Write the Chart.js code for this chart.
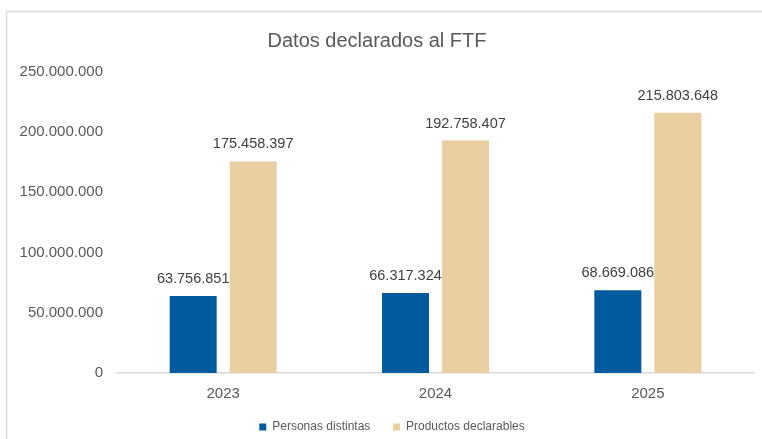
<!DOCTYPE html>
<html>
<head>
<meta charset="utf-8">
<script src="https://cdn.jsdelivr.net/npm/chart.js@4/dist/chart.umd.min.js"></script>
<style>
html,body{margin:0;padding:0;background:#fff;}
#wrap{position:relative;width:762px;height:439px;}
</style>
</head>
<body>
<div id="wrap"><canvas id="c" width="762" height="439"></canvas></div>
<script>
const categories = ['2023', '2024', '2025'];
const personasDistintas = [63756851, 66317324, 68669086];
const productosDeclarables = [175458397, 192758407, 215803648];
const seriesNames = ['Personas distintas', 'Productos declarables'];
const yTicks = [0, 50000000, 100000000, 150000000, 200000000, 250000000];

const FONT = "'Liberation Sans', Arial, sans-serif";
const fmt = v => v.toString().replace(/\B(?=(\d{3})+(?!\d))/g, '.');

const frame = {
  id: 'frame',
  beforeDraw(chart) {
    const ctx = chart.ctx;
    ctx.save();
    ctx.fillStyle = '#fff';
    ctx.fillRect(0, 0, chart.width, chart.height);
    ctx.strokeStyle = '#d9d9d9';
    ctx.lineWidth = 1.5;
    ctx.beginPath();
    ctx.moveTo(6.5, chart.height);
    ctx.lineTo(6.5, 11.5);
    ctx.lineTo(chart.width, 11.5);
    ctx.stroke();
    ctx.restore();
  }
};

const shiftLegend = {
  id: 'shiftLegend',
  afterLayout(chart) {
    if (chart.legend) { chart.legend.left += 15; chart.legend.right += 15; }
  }
};

const valueLabels = {
  id: 'valueLabels',
  afterDatasetsDraw(chart) {
    const ctx = chart.ctx;
    ctx.save();
    ctx.font = '14.5px ' + FONT;
    ctx.fillStyle = '#404040';
    ctx.textAlign = 'center';
    ctx.textBaseline = 'middle';
    chart.data.datasets.forEach((ds, i) => {
      chart.getDatasetMeta(i).data.forEach((bar, j) => {
        ctx.fillText(fmt(ds.data[j]), bar.x, bar.y - 17);
      });
    });
    ctx.restore();
  }
};

new Chart(document.getElementById('c'), {
  type: 'bar',
  data: {
    labels: categories,
    datasets: [
      { label: seriesNames[0], data: personasDistintas, backgroundColor: '#005A9E' },
      { label: seriesNames[1], data: productosDeclarables, backgroundColor: '#E8CEA0' }
    ]
  },
  options: {
    responsive: false,
    animation: false,
    devicePixelRatio: 1,
    layout: { padding: { left: 0, right: 8, top: 12, bottom: -4 } },
    datasets: { bar: { categoryPercentage: 0.565, barPercentage: 0.783 } },
    plugins: {
      title: {
        display: true,
        text: 'Datos declarados al FTF',
        color: '#595959',
        font: { family: FONT, size: 20, weight: 'normal' },
        padding: { top: 17, bottom: 18.5 }
      },
      legend: {
        position: 'bottom',
        labels: {
          color: '#595959',
          font: { family: FONT, size: 12 },
          boxWidth: 7,
          boxHeight: 7,
          padding: 6,
          generateLabels(chart) {
            const items = Chart.defaults.plugins.legend.labels.generateLabels(chart);
            items.forEach((it, i) => { if (i < items.length - 1) it.text = it.text + '\u00A0\u00A0\u00A0\u00A0\u00A0'; });
            return items;
          }
        }
      },
      tooltip: { enabled: false }
    },
    scales: {
      x: {
        grid: { display: false, drawTicks: false },
        border: { display: true, color: '#d9d9d9', width: 1.5 },
        ticks: { color: '#595959', font: { family: FONT, size: 15 }, padding: 12 }
      },
      y: {
        min: 0,
        max: 250000000,
        afterBuildTicks: s => { s.ticks = yTicks.map(v => ({ value: v })); },
        afterFit: s => { s.width = 117; },
        grid: { display: false, drawTicks: false },
        border: { display: false },
        ticks: { color: '#595959', font: { family: FONT, size: 15 }, padding: 14, callback: v => fmt(v) }
      }
    }
  },
  plugins: [frame, shiftLegend, valueLabels]
});
</script>
</body>
</html>
